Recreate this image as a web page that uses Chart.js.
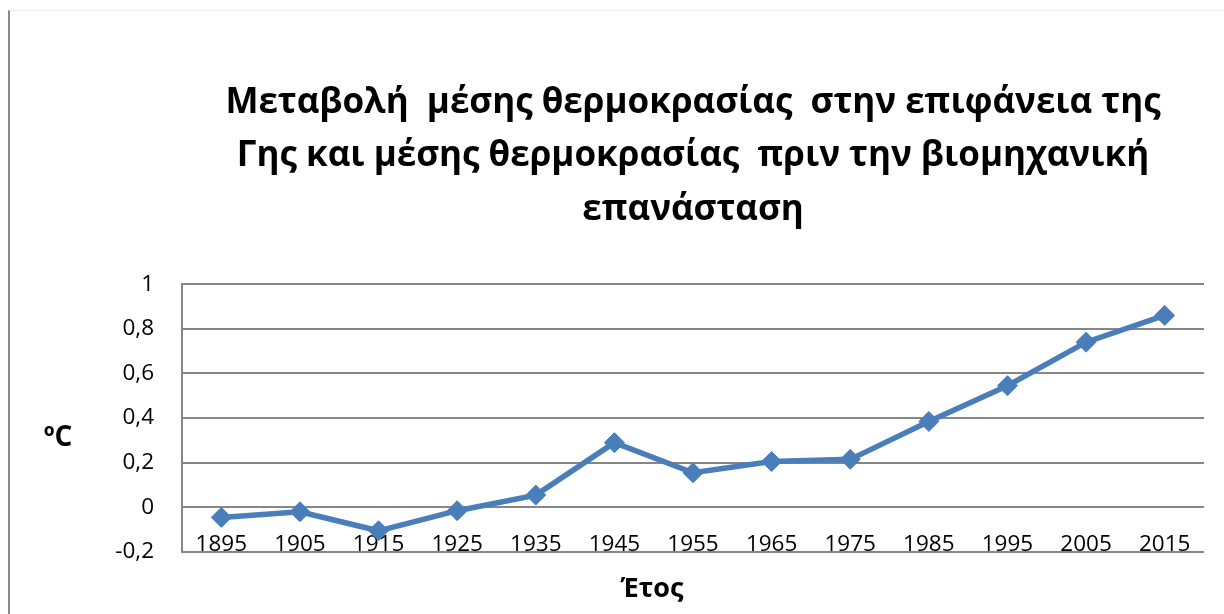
<!DOCTYPE html>
<html>
<head>
<meta charset="utf-8">
<script src="https://cdn.jsdelivr.net/npm/chart.js@4.4.0/dist/chart.umd.min.js"></script>
<style>
  html, body { margin: 0; padding: 0; background: #fff; }
  #wrap { position: relative; width: 1224px; height: 614px; overflow: hidden; }
  #frame { position: absolute; left: 8px; top: 10px; right: -2px; bottom: -4px;
           border-left: 2px solid #8a8a8a; border-top: 1px solid #ececec; pointer-events: none; }
  canvas { position: absolute; left: 0; top: 0; }
</style>
</head>
<body>
<div id="wrap">
  <canvas id="c" width="1224" height="614"></canvas>
  <div id="frame"></div>
</div>
<script>
const categories = ['1895','1905','1915','1925','1935','1945','1955','1965','1975','1985','1995','2005','2015'];
const temperatureValues = [-0.045, -0.02, -0.105, -0.015, 0.055, 0.29, 0.155, 0.205, 0.215, 0.385, 0.545, 0.74, 0.86];
const yTickValues = [-0.2, 0, 0.2, 0.4, 0.6, 0.8, 1];
const yTickLabels = ['-0,2', '0', '0,2', '0,4', '0,6', '0,8', '1'];
const titleLines = ['Μεταβολή  μέσης θερμοκρασίας  στην επιφάνεια της', 'Γης και μέσης θερμοκρασίας  πριν την βιομηχανική', 'επανάσταση'];
const yAxisTitle = 'ºC';
const xAxisTitle = 'Έτος';

const FONT = "'Open Sans', 'Noto Sans', sans-serif";

const axisTitles = {
  id: 'axisTitles',
  afterDraw(chart) {
    const ctx = chart.ctx;
    const area = chart.chartArea;
    ctx.save();
    ctx.fillStyle = '#000';
    ctx.textAlign = 'center';
    ctx.textBaseline = 'middle';
    ctx.font = "bold 28px " + FONT;
    ctx.fillText(yAxisTitle, 58, 438);
    ctx.font = "bold 27px " + FONT;
    ctx.fillText(xAxisTitle, (area.left + area.right) / 2 - 41, 589);
    ctx.restore();
  }
};

new Chart(document.getElementById('c'), {
  type: 'line',
  data: {
    labels: categories,
    datasets: [{
      data: temperatureValues,
      borderColor: '#4a7ebb',
      backgroundColor: '#4a7ebb',
      borderWidth: 5.5,
      pointStyle: 'rectRot',
      pointRadius: 10,
      pointHoverRadius: 10,
      pointBorderWidth: 1,
      pointBorderColor: '#4a7ebb',
      pointBackgroundColor: '#4a7ebb',
      tension: 0,
      fill: false
    }]
  },
  options: {
    responsive: false,
    animation: false,
    devicePixelRatio: 1,
    layout: { padding: { left: 0, right: 20, top: 76, bottom: 62 } },
    plugins: {
      legend: { display: false },
      tooltip: { enabled: false },
      title: {
        display: true,
        fullSize: false,
        text: titleLines,
        color: '#000',
        font: { family: FONT, size: 35, weight: 'bold', lineHeight: 1.53 },
        padding: { top: 0, bottom: 47.5 }
      }
    },
    scales: {
      x: {
        type: 'category',
        offset: true,
        grid: { display: false, drawTicks: false },
        border: { display: false },
        ticks: {
          color: '#000',
          font: { family: FONT, size: 22.5 },
          mirror: true,
          padding: -6,
          maxRotation: 0,
          autoSkip: false
        },
        afterFit(s) { s.height = 0; }
      },
      y: {
        min: -0.2,
        max: 1,
        grid: { color: '#868686', lineWidth: 2, drawTicks: false },
        border: { display: true, color: '#868686', width: 2 },
        afterBuildTicks(s) { s.ticks = yTickValues.map(v => ({ value: v })); },
        ticks: {
          color: '#000',
          font: { family: FONT, size: 22.5 },
          padding: 28,
          callback: (v, i) => yTickLabels[i]
        },
        afterFit(s) { s.width = 182; }
      }
    }
  },
  plugins: [axisTitles]
});
</script>
</body>
</html>
